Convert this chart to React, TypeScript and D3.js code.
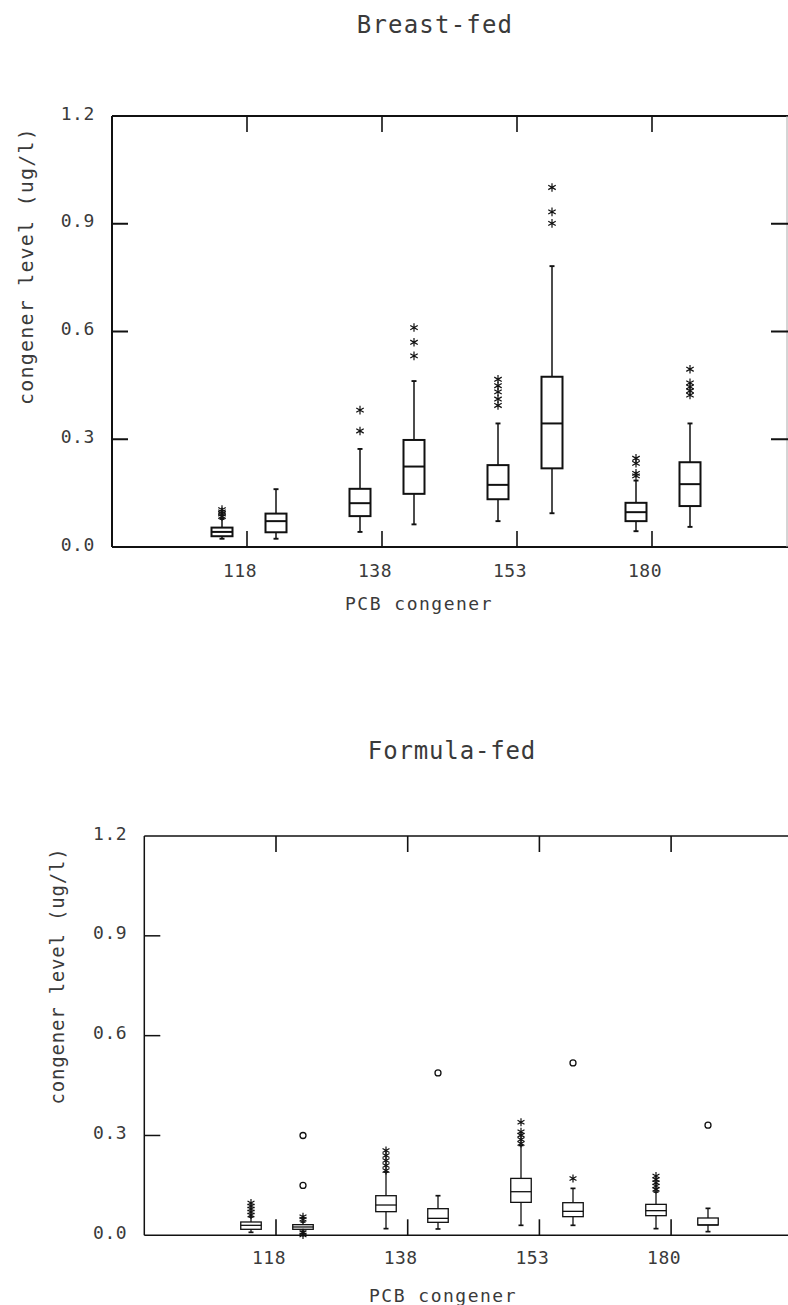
import React, { useEffect, useRef } from "react";
import * as d3 from "d3";

// PCB congeners on the x axis, two boxes per congener
const congeners = ["118", "138", "153", "180"];
const groups = ["first", "second"];
const yTicks = [0, 0.3, 0.6, 0.9, 1.2];

// Breast-fed: order is 118a, 118b, 138a, 138b, 153a, 153b, 180a, 180b
const breastLow = [0.023, 0.023, 0.042, 0.063, 0.072, 0.094, 0.044, 0.056];
const breastQ1 = [0.03, 0.041, 0.086, 0.148, 0.133, 0.219, 0.072, 0.114];
const breastMedian = [0.042, 0.072, 0.122, 0.224, 0.173, 0.344, 0.097, 0.175];
const breastQ3 = [0.054, 0.093, 0.162, 0.298, 0.228, 0.474, 0.123, 0.236];
const breastHigh = [0.078, 0.161, 0.273, 0.462, 0.344, 0.782, 0.185, 0.344];
const breastStars = [
  [0.085, 0.092, 0.098, 0.104],
  [],
  [0.323, 0.381],
  [0.532, 0.57, 0.611],
  [0.394, 0.412, 0.432, 0.449, 0.467],
  [0.901, 0.933, 1.001],
  [0.198, 0.205, 0.233, 0.247],
  [0.423, 0.435, 0.446, 0.457, 0.495],
];
const breastCircles: number[][] = [[], [], [], [], [], [], [], []];

// Formula-fed
const formulaLow = [0.009, 0.012, 0.02, 0.019, 0.03, 0.03, 0.02, 0.011];
const formulaQ1 = [0.018, 0.018, 0.071, 0.039, 0.099, 0.056, 0.059, 0.031];
const formulaMedian = [0.03, 0.025, 0.091, 0.051, 0.131, 0.072, 0.074, 0.031];
const formulaQ3 = [0.04, 0.032, 0.119, 0.08, 0.171, 0.098, 0.093, 0.052];
const formulaHigh = [0.055, 0.04, 0.19, 0.119, 0.27, 0.141, 0.13, 0.081];
const formulaStars = [
  [0.061, 0.07, 0.079, 0.088, 0.097],
  [0.001, 0.008, 0.048, 0.056],
  [0.195, 0.21, 0.225, 0.24, 0.255],
  [],
  [0.276, 0.288, 0.301, 0.311, 0.34],
  [0.171],
  [0.138, 0.148, 0.158, 0.168, 0.178],
  [],
];
const formulaCircles = [[], [0.15, 0.3], [], [0.488], [], [0.518], [], [0.331]];

const FONT = "'DejaVu Sans Mono', monospace";
const TEXT = "#3a3a3a";

function starPath(x: number, y: number, r: number) {
  const c = r * Math.cos(Math.PI / 6);
  const s = r * Math.sin(Math.PI / 6);
  return `M${x},${y - r}L${x},${y + r}M${x - c},${y - s}L${x + c},${y + s}M${x - c},${y + s}L${x + c},${y - s}`;
}

function drawPanel(svg: any, o: any) {
  const x = d3.scaleLinear().domain([0, 5]).range([o.left, o.left + 5 * o.unit]);
  const y = d3.scaleLinear().domain([0, 1.2]).range([o.bottom, o.top]);
  const xGroup = d3.scaleBand().domain(congeners).range(o.groupRange);
  const xInner = d3.scaleBand().domain(groups).range([-2 * o.pairHalf, 2 * o.pairHalf]);
  const g = svg.append("g");
  const right = x(5);

  // frame
  g.append("line").attr("x1", o.left).attr("x2", right + 2).attr("y1", o.top).attr("y2", o.top)
    .attr("stroke", "#111").attr("stroke-width", o.frameW);
  g.append("line").attr("x1", o.left).attr("x2", right + 2).attr("y1", o.bottom).attr("y2", o.bottom)
    .attr("stroke", "#111").attr("stroke-width", o.frameW);
  g.append("line").attr("x1", o.left).attr("x2", o.left).attr("y1", o.top).attr("y2", o.bottom)
    .attr("stroke", "#111").attr("stroke-width", o.frameW);
  g.append("line").attr("x1", right).attr("x2", right).attr("y1", o.top).attr("y2", o.bottom)
    .attr("stroke", "#aaa").attr("stroke-width", 1);

  // y ticks (left and right) and labels
  yTicks.forEach((t) => {
    if (t > 0 && t < 1.2) {
      g.append("line").attr("x1", o.left).attr("x2", o.left + 16).attr("y1", y(t)).attr("y2", y(t))
        .attr("stroke", "#111").attr("stroke-width", o.frameW);
      if (o.rightTicks) {
        g.append("line").attr("x1", right - 16).attr("x2", right + 2).attr("y1", y(t)).attr("y2", y(t))
          .attr("stroke", "#111").attr("stroke-width", o.frameW);
      }
    }
    g.append("text").attr("x", o.left - 17).attr("y", y(t) - 3)
      .attr("text-anchor", "end").attr("dominant-baseline", "central")
      .attr("font-family", FONT).attr("font-size", 18).attr("letter-spacing", 0.6)
      .attr("fill", TEXT).text(d3.format(".1f")(t));
  });

  // category dividers and labels
  congeners.forEach((c, i) => {
    const xv = x(i + 1);
    g.append("line").attr("x1", xv).attr("x2", xv).attr("y1", o.top).attr("y2", o.top + 16)
      .attr("stroke", "#111").attr("stroke-width", 1.6);
    g.append("line").attr("x1", xv).attr("x2", xv).attr("y1", o.bottom - 16).attr("y2", o.bottom)
      .attr("stroke", "#111").attr("stroke-width", 1.6);
    g.append("text").attr("x", xv - 7).attr("y", o.labelY)
      .attr("text-anchor", "middle").attr("font-family", FONT).attr("font-size", 18)
      .attr("letter-spacing", 0.5).attr("fill", TEXT).text(c);
  });

  // boxes
  congeners.forEach((c, ci) => {
    groups.forEach((gr, gi) => {
      const k = ci * 2 + gi;
      const cx = (xGroup(c) as number) + xGroup.bandwidth() / 2 + (xInner(gr) as number) + xInner.bandwidth() / 2;
      const bw = o.boxW;
      const b = g.append("g").attr("stroke", "#111").attr("fill", "none");
      b.append("line").attr("x1", cx).attr("x2", cx).attr("y1", y(o.q3[k])).attr("y2", y(o.high[k]))
        .attr("stroke-width", o.whiskW);
      b.append("line").attr("x1", cx).attr("x2", cx).attr("y1", y(o.q1[k])).attr("y2", y(o.low[k]))
        .attr("stroke-width", o.whiskW);
      b.append("line").attr("x1", cx - 2.5).attr("x2", cx + 2.5).attr("y1", y(o.high[k])).attr("y2", y(o.high[k]))
        .attr("stroke-width", o.whiskW + 0.4);
      b.append("line").attr("x1", cx - 2.5).attr("x2", cx + 2.5).attr("y1", y(o.low[k])).attr("y2", y(o.low[k]))
        .attr("stroke-width", o.whiskW + 0.4);
      b.append("rect").attr("x", cx - bw / 2).attr("y", y(o.q3[k]))
        .attr("width", bw).attr("height", y(o.q1[k]) - y(o.q3[k]))
        .attr("fill", "white").attr("stroke-width", o.boxStroke);
      b.append("line").attr("x1", cx - bw / 2).attr("x2", cx + bw / 2)
        .attr("y1", y(o.median[k])).attr("y2", y(o.median[k])).attr("stroke-width", o.boxStroke);
      o.stars[k].forEach((v: number) => {
        b.append("path").attr("d", starPath(cx, y(v), o.starR)).attr("stroke-width", 1.2);
      });
      o.circles[k].forEach((v: number) => {
        b.append("circle").attr("cx", cx).attr("cy", y(v)).attr("r", 3)
          .attr("fill", "white").attr("stroke-width", 1.3);
      });
    });
  });

  // titles
  g.append("text").attr("x", o.titleX).attr("y", o.titleY).attr("text-anchor", "middle")
    .attr("font-family", FONT).attr("font-size", 24).attr("letter-spacing", o.titleSpacing)
    .attr("fill", TEXT).text(o.title);
  g.append("text").attr("x", o.xTitleX).attr("y", o.xTitleY).attr("text-anchor", "middle")
    .attr("font-family", FONT).attr("font-size", 18).attr("letter-spacing", 1.5)
    .attr("fill", TEXT).text("PCB congener");
  g.append("text")
    .attr("transform", `translate(${o.yTitleX},${o.yTitleY}) rotate(-90)`)
    .attr("text-anchor", "middle").attr("dominant-baseline", "central")
    .attr("font-family", FONT).attr("font-size", o.yTitleSize).attr("letter-spacing", o.yTitleSpacing)
    .attr("fill", TEXT).text("congener level (ug/l)");
}

export default function App() {
  const ref = useRef<SVGSVGElement>(null);

  useEffect(() => {
    const svg = d3.select(ref.current);
    svg.selectAll("*").remove();

    drawPanel(svg, {
      title: "Breast-fed", titleX: 435, titleY: 33, titleSpacing: 1.2,
      left: 112, top: 116, bottom: 547, unit: 135, rightTicks: true,
      groupRange: [180, 732], pairHalf: 27, boxW: 21,
      frameW: 2, boxStroke: 2, whiskW: 1.5, starR: 4.3,
      labelY: 577, xTitleX: 419, xTitleY: 610,
      yTitleX: 26, yTitleY: 266, yTitleSize: 20, yTitleSpacing: 1.2,
      low: breastLow, q1: breastQ1, median: breastMedian, q3: breastQ3, high: breastHigh,
      stars: breastStars, circles: breastCircles,
    });

    drawPanel(svg, {
      title: "Formula-fed", titleX: 452, titleY: 759, titleSpacing: 0.85,
      left: 144.3, top: 836, bottom: 1235.3, unit: 131.7, rightTicks: false,
      groupRange: [209.5, 749.5], pairHalf: 26, boxW: 20.5,
      frameW: 1.5, boxStroke: 1.3, whiskW: 1.3, starR: 4,
      labelY: 1264, xTitleX: 443, xTitleY: 1302,
      yTitleX: 57, yTitleY: 976, yTitleSize: 19, yTitleSpacing: 0.8,
      low: formulaLow, q1: formulaQ1, median: formulaMedian, q3: formulaQ3, high: formulaHigh,
      stars: formulaStars, circles: formulaCircles,
    });
  }, []);

  return (
    <svg
      ref={ref}
      width={788}
      height={1305}
      style={{ position: "absolute", left: 0, top: 0, background: "white" }}
    />
  );
}
